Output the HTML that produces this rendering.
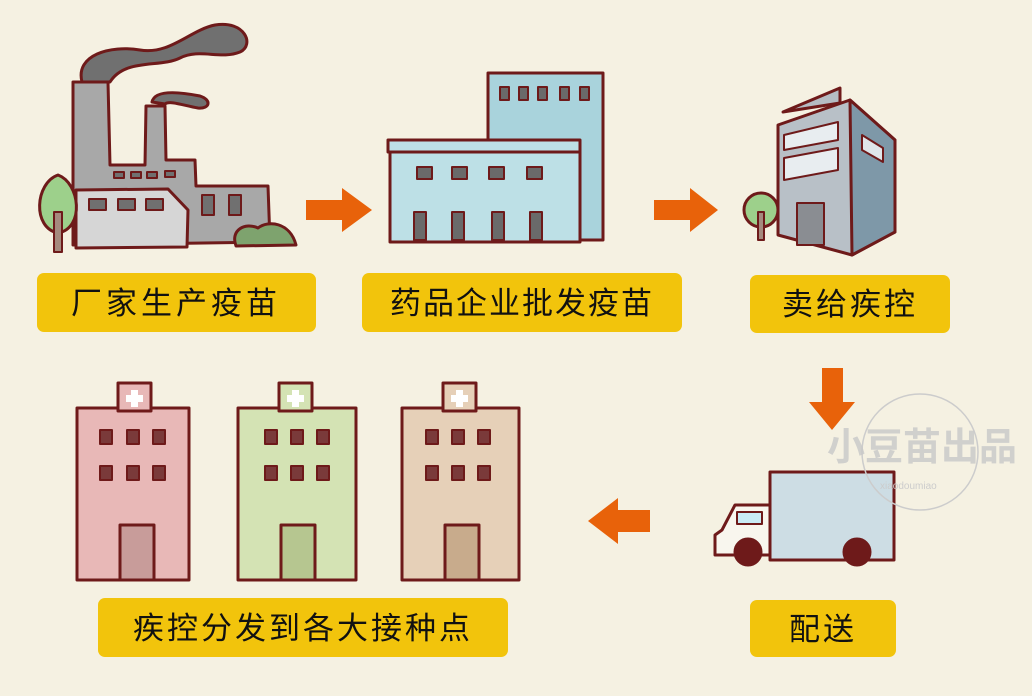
<!DOCTYPE html>
<html><head><meta charset="utf-8"><style>
body{margin:0;background:#f5f1e2;}
svg{display:block}
text{font-family:"Liberation Sans","Noto Sans CJK SC",sans-serif;}
</style></head><body>
<svg width="1032" height="696" viewBox="0 0 1032 696" xmlns="http://www.w3.org/2000/svg">
<rect width="1032" height="696" fill="#f5f1e2"/>
<g stroke="#6e1a1a" stroke-width="3" stroke-linejoin="round">
<!-- factory -->
<path d="M82,82 C75,55 110,45 140,50 C170,55 190,30 215,25 C245,20 255,45 240,52 C220,60 200,48 180,58 C160,68 125,58 110,82 Z" fill="#707070"/>
<path d="M152,102 C155,88 185,93 200,96 C212,100 210,109 198,108 C185,106 170,100 165,104 Z" fill="#707070"/>
<path d="M73,82 L108,82 L110,165 L145,165 L146,106 L165,106 L166,160 L195,160 L196,186 L268,186 L270,242 L73,245 Z" fill="#a8a8a8"/>
<path d="M76,190 L168,189 L188,210 L187,247 L76,248 Z" fill="#d6d6d6"/>
<g fill="#707070" stroke-width="2">
<rect x="114" y="172" width="10" height="6"/><rect x="131" y="172" width="10" height="6"/><rect x="147" y="172" width="10" height="6"/><rect x="165" y="171" width="10" height="6"/>
<rect x="89" y="199" width="17" height="11"/><rect x="118" y="199" width="17" height="11"/><rect x="146" y="199" width="17" height="11"/>
<rect x="202" y="195" width="12" height="20"/><rect x="229" y="195" width="12" height="20"/>
</g>
<path d="M236,246 C230,230 245,222 258,228 C268,220 290,222 296,245 Z" fill="#7ea36e"/>
<path d="M58,175 C35,183 32,228 58,233 C85,228 80,183 58,175 Z" fill="#9dd08b"/>
<rect x="54" y="212" width="8" height="40" fill="#a58a7e" stroke-width="2"/>
<!-- building 2 -->
<rect x="488" y="73" width="115" height="167" fill="#a9d3dc"/>
<rect x="390" y="150" width="190" height="92" fill="#bde0e6"/>
<rect x="388" y="140" width="192" height="12" fill="#bde0e6"/>
<g fill="#6a6a6a" stroke-width="2">
<rect x="500" y="87" width="9" height="13"/><rect x="519" y="87" width="9" height="13"/><rect x="538" y="87" width="9" height="13"/><rect x="560" y="87" width="9" height="13"/><rect x="580" y="87" width="9" height="13"/>
<rect x="417" y="167" width="15" height="12"/><rect x="452" y="167" width="15" height="12"/><rect x="489" y="167" width="15" height="12"/><rect x="527" y="167" width="15" height="12"/>
<rect x="414" y="212" width="12" height="28"/><rect x="452" y="212" width="12" height="28"/><rect x="492" y="212" width="12" height="28"/><rect x="530" y="212" width="12" height="28"/>
</g>
<!-- building 3 -->
<path d="M783,112 L840,88 L840,103 Z" fill="#b5bcc3"/>
<path d="M778,125 L850,100 L895,140 L895,232 L852,255 L778,235 Z" fill="#b8c0c7"/>
<path d="M850,100 L895,140 L895,232 L852,255 Z" fill="#7e98a8"/>
<path d="M862,135 L883,148 L883,162 L862,150 Z" fill="#dfe6ea" stroke-width="2"/>
<path d="M784,135 L838,122 L838,140 L784,150 Z" fill="#e8edf0" stroke-width="2"/>
<path d="M784,158 L838,148 L838,170 L784,180 Z" fill="#e8edf0" stroke-width="2"/>
<rect x="797" y="203" width="27" height="42" fill="#8a8d92" stroke-width="2"/>
<circle cx="761" cy="210" r="17" fill="#9dd08b"/>
<rect x="758" y="212" width="6" height="28" fill="#a58a7e" stroke-width="2"/>
<!-- truck -->
<rect x="770" y="472" width="124" height="88" fill="#cddde4"/>
<path d="M770,505 L735,505 L722,530 L715,535 L715,555 L770,555 Z" fill="#f8f6ee"/>
<rect x="737" y="512" width="25" height="12" fill="#c9ecf6" stroke-width="2"/>
<circle cx="748" cy="552" r="13" fill="#6e1a1a"/>
<circle cx="857" cy="552" r="13" fill="#6e1a1a"/>
<!-- hospitals -->
<g>
<rect x="77" y="408" width="112" height="172" fill="#e8b8b7"/>
<rect x="118" y="383" width="33" height="28" fill="#e8b8b7"/>
<rect x="238" y="408" width="118" height="172" fill="#d4e3b4"/>
<rect x="279" y="383" width="33" height="28" fill="#d4e3b4"/>
<rect x="402" y="408" width="117" height="172" fill="#e6d0b8"/>
<rect x="443" y="383" width="33" height="28" fill="#e6d0b8"/>
</g>
<g fill="#7a3a3a" stroke-width="2">
<rect x="100" y="430" width="12" height="14"/><rect x="127" y="430" width="12" height="14"/><rect x="153" y="430" width="12" height="14"/>
<rect x="100" y="466" width="12" height="14"/><rect x="127" y="466" width="12" height="14"/><rect x="153" y="466" width="12" height="14"/>
<rect x="265" y="430" width="12" height="14"/><rect x="291" y="430" width="12" height="14"/><rect x="317" y="430" width="12" height="14"/>
<rect x="265" y="466" width="12" height="14"/><rect x="291" y="466" width="12" height="14"/><rect x="317" y="466" width="12" height="14"/>
<rect x="426" y="430" width="12" height="14"/><rect x="452" y="430" width="12" height="14"/><rect x="478" y="430" width="12" height="14"/>
<rect x="426" y="466" width="12" height="14"/><rect x="452" y="466" width="12" height="14"/><rect x="478" y="466" width="12" height="14"/>
</g>
<rect x="120" y="525" width="34" height="55" fill="#c89c9a"/>
<rect x="281" y="525" width="34" height="55" fill="#b6c690"/>
<rect x="445" y="525" width="34" height="55" fill="#c8ab8c"/>
</g>
<g fill="#fff">
<rect x="131" y="390" width="7" height="17"/><rect x="126" y="395" width="17" height="7"/>
<rect x="292" y="390" width="7" height="17"/><rect x="287" y="395" width="17" height="7"/>
<rect x="456" y="390" width="7" height="17"/><rect x="451" y="395" width="17" height="7"/>
</g>
<!-- arrows -->
<g fill="#e8620a">
<path d="M306,200 L342,200 L342,188 L372,210 L342,232 L342,220 L306,220 Z"/>
<path d="M654,200 L690,200 L690,188 L718,210 L690,232 L690,220 L654,220 Z"/>
<path d="M822,368 L843,368 L843,402 L855,402 L832,430 L809,402 L822,402 Z"/>
<path d="M650,510 L618,510 L618,498 L588,521 L618,544 L618,532 L650,532 Z"/>
</g>
<!-- watermark -->
<circle cx="920" cy="452" r="58" fill="none" stroke="#ccc" stroke-width="1.5"/>
<text x="827" y="460" font-size="38" font-weight="bold" fill="#c8c8c8" opacity="0.8">小豆苗出品</text>
<text x="880" y="489" font-size="10" fill="#ccc">xiaodoumiao</text>
<!-- labels -->
<g fill="#f2c40c">
<rect x="37" y="273" width="279" height="59" rx="7"/>
<rect x="362" y="273" width="320" height="59" rx="7"/>
<rect x="750" y="275" width="200" height="58" rx="7"/>
<rect x="98" y="598" width="410" height="59" rx="7"/>
<rect x="750" y="600" width="146" height="57" rx="7"/>
</g>
<g font-size="31" fill="#111" text-anchor="middle">
<text x="176" y="314" letter-spacing="4">厂家生产疫苗</text>
<text x="522" y="314" letter-spacing="2">药品企业批发疫苗</text>
<text x="850" y="315" letter-spacing="3">卖给疾控</text>
<text x="303" y="639" letter-spacing="3">疾控分发到各大接种点</text>
<text x="823" y="640" letter-spacing="3">配送</text>
</g>
</svg>
</body></html>
